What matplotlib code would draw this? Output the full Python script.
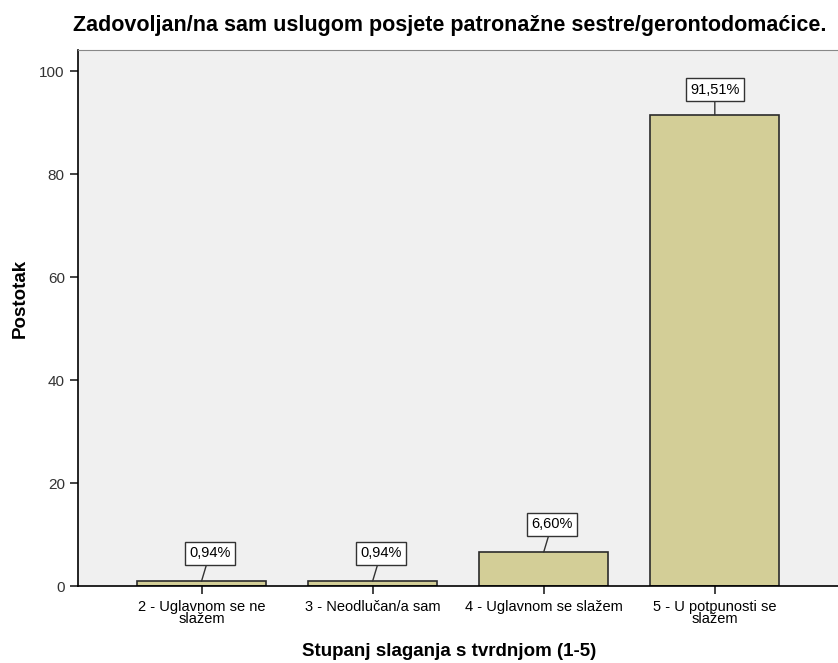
import matplotlib.pyplot as plt

plt.rcParams['font.family'] = ['Liberation Sans', 'DejaVu Sans']

kategorije = ['2 - Uglavnom se ne\nslažem', '3 - Neodlučan/a sam',
              '4 - Uglavnom se slažem', '5 - U potpunosti se\nslažem']
postotci = [0.94, 0.94, 6.60, 91.51]
oznake = ['0,94%', '0,94%', '6,60%', '91,51%']
y_ticks = [0, 20, 40, 60, 80, 100]

fig = plt.figure(figsize=(8.38, 6.63), dpi=100)
ax = fig.add_axes([78 / 838, 77 / 663, 760 / 838, 536 / 663])
ax.set_facecolor('#F0F0F0')

x = range(len(postotci))
ax.bar(x, postotci, width=0.755, color='#D3CE97', edgecolor='#2b2b2b', linewidth=1.2, zorder=2)

for i, (v, t) in enumerate(zip(postotci, oznake)):
    if v < 50:
        pomak = (6, 20)
    else:
        pomak = (0, 18)
    ax.annotate(t, xy=(i, v), xytext=pomak, textcoords='offset points',
                ha='center', va='center', fontsize=10.5, zorder=3,
                bbox=dict(boxstyle='square,pad=0.3', fc='white', ec='#333333', lw=1),
                arrowprops=dict(arrowstyle='-', color='#333333', lw=1, shrinkA=0, shrinkB=0))

ax.set_xlim(-0.722, 3.72)
ax.set_ylim(0, 104.1)
ax.set_xticks(list(x))
ax.set_xticklabels(kategorije, fontsize=10.5, linespacing=0.8)
ax.set_yticks(y_ticks)
ax.set_yticklabels([str(v) for v in y_ticks], fontsize=11, color='#333333')
ax.tick_params(axis='both', direction='out', length=6, width=1.2, color='#222222')
ax.tick_params(axis='x', pad=4)

ax.spines['right'].set_visible(False)
ax.spines['top'].set_color('#888888')
ax.spines['left'].set_linewidth(1.2)
ax.spines['bottom'].set_linewidth(1.2)

fig.text(20 / 838, 1 - 298 / 663, 'Postotak', rotation=90, ha='center', va='center',
         fontsize=13.5, fontweight='bold')
fig.text(449 / 838, 1 - 651 / 663, 'Stupanj slaganja s tvrdnjom (1-5)', ha='center', va='center',
         fontsize=13.5, fontweight='bold')
fig.text(0.537, 0.961, 'Zadovoljan/na sam uslugom posjete patronažne sestre/gerontodomaćice.',
         ha='center', va='center', fontsize=15.5, fontweight='bold')

fig.savefig('out.png', dpi=100)
